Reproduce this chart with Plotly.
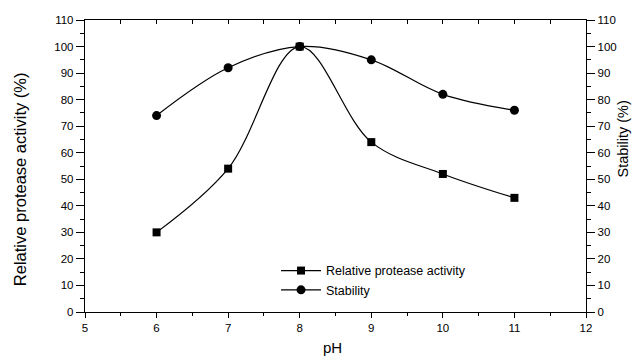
import plotly.graph_objects as go

ph = [6, 7, 8, 9, 10, 11]
activity = [30, 54, 100, 64, 52, 43]
stability = [74, 92, 100, 95, 82, 76]

x_ticks = [5, 6, 7, 8, 9, 10, 11, 12]
y_ticks = list(range(0, 111, 10))

fnt = "Liberation Sans, Arial, sans-serif"

fig = go.Figure()
fig.add_trace(go.Scatter(
    x=ph, y=activity, name="Relative protease activity",
    mode="lines+markers",
    line=dict(color="black", width=1.2, shape="spline", smoothing=1.0),
    marker=dict(symbol="square", size=8, color="black"),
))
fig.add_trace(go.Scatter(
    x=ph, y=stability, name="Stability",
    mode="lines+markers", yaxis="y2",
    line=dict(color="black", width=1.2, shape="spline", smoothing=1.0),
    marker=dict(symbol="circle", size=9, color="black"),
))
# invisible trace to enable top axis
fig.add_trace(go.Scatter(x=[5, 12], y=[0, 0], xaxis="x2", mode="markers",
                         marker=dict(opacity=0), showlegend=False, hoverinfo="skip"))

axis_common = dict(showgrid=False, zeroline=False, linecolor="black", linewidth=1.4,
                   tickcolor="black", automargin=False,
                   tickfont=dict(family=fnt, size=11.5, color="black"))

fig.update_layout(
    width=632, height=350,
    margin=dict(l=77, r=54, t=12, b=46),
    paper_bgcolor="white", plot_bgcolor="white",
    font=dict(family=fnt, color="black"),
    xaxis=dict(range=[5, 12], tickvals=x_ticks, ticks="outside", ticklen=5, tickwidth=1.3,
               minor=dict(dtick=0.5, ticks="outside", ticklen=3, tickcolor="black", tickwidth=1.3),
               showline=True, **axis_common),
    xaxis2=dict(range=[5, 12], overlaying="x", side="top", showticklabels=False,
                dtick=0.5, tick0=5, ticks="inside", ticklen=4, tickwidth=1.3,
                showline=True, showgrid=False, zeroline=False, linecolor="black",
                linewidth=1.4, tickcolor="black", automargin=False),
    yaxis=dict(range=[0, 110], tickvals=y_ticks, ticks="outside", ticklen=8, tickwidth=1.3,
               minor=dict(dtick=5, ticks="outside", ticklen=4, tickcolor="black", tickwidth=1.3),
               showline=True, **axis_common),
    yaxis2=dict(range=[0, 110], tickvals=y_ticks, overlaying="y", side="right",
                ticks="outside", ticklen=8, tickwidth=1.3,
                minor=dict(dtick=5, ticks="outside", ticklen=4, tickcolor="black", tickwidth=1.3),
                showline=True, **axis_common),
    legend=dict(x=0.3813, y=0.192, xanchor="left", yanchor="top",
                bgcolor="rgba(0,0,0,0)", font=dict(family=fnt, size=12.5),
                tracegroupgap=0, itemwidth=40),
    showlegend=True,
    annotations=[
        dict(text="pH", xref="paper", yref="paper", x=0.495, y=-0.123,
             xanchor="center", yanchor="middle", showarrow=False,
             font=dict(family=fnt, size=15, color="black")),
        dict(text="Relative protease activity (%)", xref="paper", yref="paper",
             x=-0.1297, y=0.455, xanchor="center", yanchor="middle", textangle=-90,
             showarrow=False, font=dict(family=fnt, size=16.5, color="black")),
        dict(text="Stability (%)", xref="paper", yref="paper",
             x=1.0738, y=0.594, xanchor="center", yanchor="middle", textangle=-90,
             showarrow=False, font=dict(family=fnt, size=14.5, color="black")),
    ],
)

fig.write_html("out.html")
